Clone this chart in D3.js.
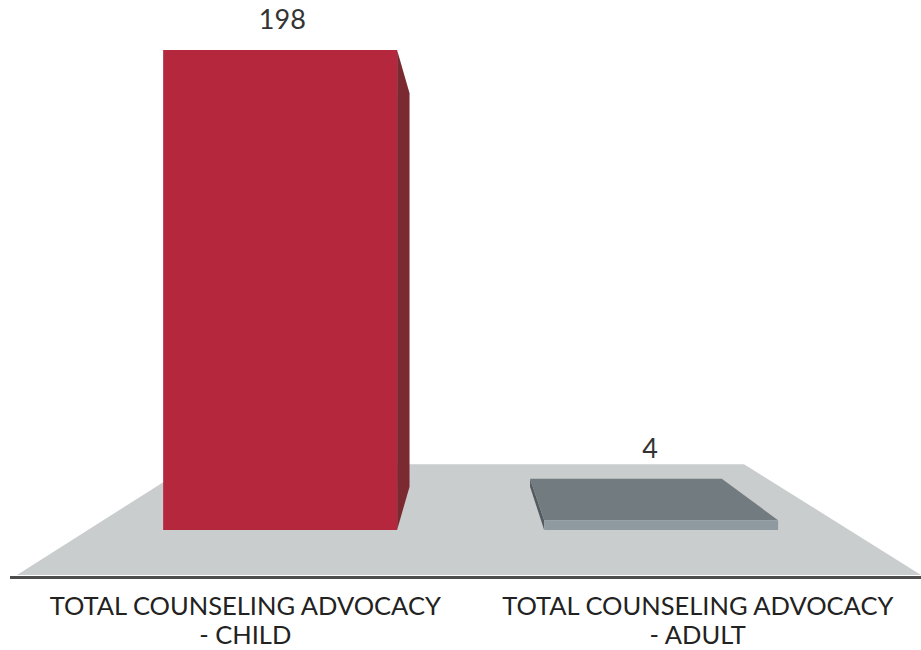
<!DOCTYPE html>
<html><head><meta charset="utf-8">
<script src="https://cdn.jsdelivr.net/npm/d3@7"></script>
<style>html,body{margin:0;padding:0;background:#ffffff;}svg{display:block;}</style>
</head><body><svg id="chart" width="921" height="650"></svg>
<script>
// ---- data ----
const categories = ["TOTAL COUNSELING ADVOCACY - CHILD", "TOTAL COUNSELING ADVOCACY - ADULT"];
const labelLines = [["TOTAL COUNSELING ADVOCACY", "- CHILD"], ["TOTAL COUNSELING ADVOCACY", "- ADULT"]];
const values = [198, 4];
const valueLabels = ["198", "4"];

// ---- styles ----
const frontColors = ["#b4273c", "#8f9aa0"];
const sideColors = ["#7b2a31", "#545b60"];
const topColors = ["#c23a4d", "#727b80"];
const floorColor = "#c9cdce";
const baseColor = "#4d4d4d";

// ---- simple perspective layout ----
const W = 921, H = 650;
const horizonY = 290, vanishX = 466, groundDrop = 285;
const sFloorFront = 1, sBarFront = 0.842, sBarBack = 0.69, sFloorBack = 0.611;
function proj(X, h, s) { return [vanishX + (X - vanishX) * s, horizonY + (groundDrop - h) * s]; }

const svg = d3.select("#chart");

const x = d3.scaleBand().domain(categories).range([19, 924]).paddingInner(0.386).paddingOuter(0.193);
const y = d3.scaleLinear().domain([0, d3.max(values)]).range([0, 570]);
const floorX = [17, 921];

// floor
svg.append("polygon")
  .attr("points", [proj(floorX[0], 0, sFloorFront), proj(floorX[1], 0, sFloorFront),
                   proj(floorX[1], 0, sFloorBack), proj(floorX[0], 0, sFloorBack)].map(p => p.join(",")).join(" "))
  .attr("fill", floorColor);

// baseline
svg.append("line")
  .attr("x1", 10).attr("x2", W)
  .attr("y1", proj(0, 0, sFloorFront)[1] + 2.5).attr("y2", proj(0, 0, sFloorFront)[1] + 2.5)
  .attr("stroke", baseColor).attr("stroke-width", 3);

// bars
const bw = x.bandwidth();
categories.forEach((c, i) => {
  const X0 = x(c), X1 = X0 + bw, h = y(values[i]);
  const FTL = proj(X0, h, sBarFront), FTR = proj(X1, h, sBarFront),
        FBL = proj(X0, 0, sBarFront), FBR = proj(X1, 0, sBarFront),
        BTL = proj(X0, h, sBarBack), BTR = proj(X1, h, sBarBack),
        BBL = proj(X0, 0, sBarBack), BBR = proj(X1, 0, sBarBack);
  const g = svg.append("g");
  const pts = [];
  const poly = (arr, fill) => {
    arr.forEach(p => pts.push(p));
    g.append("polygon").attr("points", arr.map(p => p.join(",")).join(" ")).attr("fill", fill);
  };
  if (vanishX > X1) poly([FTR, BTR, BBR, FBR], sideColors[i]);
  if (vanishX < X0) poly([FTL, BTL, BBL, FBL], sideColors[i]);
  if (h < groundDrop) poly([FTL, FTR, BTR, BTL], topColors[i]);
  poly([FTL, FTR, FBR, FBL], frontColors[i]);

  const minX = d3.min(pts, p => p[0]), maxX = d3.max(pts, p => p[0]), minY = d3.min(pts, p => p[1]);
  svg.append("text")
    .attr("x", (minX + maxX) / 2 - 4).attr("y", minY - 21)
    .attr("text-anchor", "middle")
    .attr("font-family", "Lato, 'Open Sans', sans-serif").attr("font-size", 27)
    .attr("fill", "#333").text(valueLabels[i]);

  const cx = X0 + bw / 2;
  labelLines[i].forEach((ln, j) => {
    svg.append("text")
      .attr("x", cx).attr("y", 615 + j * 28.5)
      .attr("text-anchor", "middle")
      .attr("font-family", "Lato, 'Open Sans', sans-serif").attr("font-size", 25.5)
      .attr("fill", "#222").text(ln);
  });
});
</script>
</body></html>
